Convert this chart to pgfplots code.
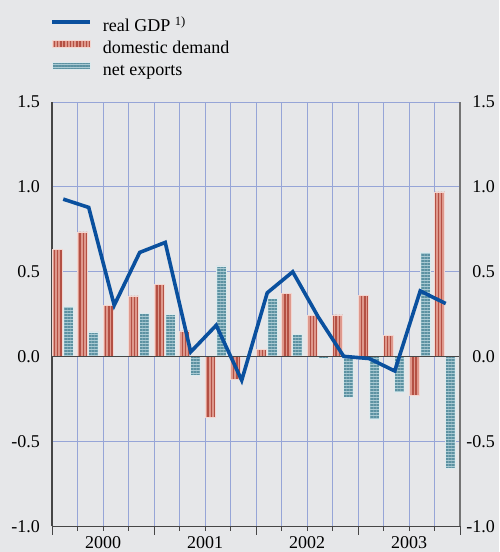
\documentclass[border=0pt]{standalone}
\usepackage{pgfplots}
\pgfplotsset{compat=1.18}
\usetikzlibrary{patterns.meta}
\usepackage{fontspec}
\setmainfont{Liberation Serif}
\definecolor{bg}{RGB}{230,231,233}
\definecolor{gridc}{RGB}{150,165,215}
\definecolor{gdp}{RGB}{10,80,158}
\definecolor{ddfill}{RGB}{222,152,140}
\definecolor{ddline}{RGB}{180,80,68}
\definecolor{nxfill}{RGB}{170,202,211}
\definecolor{nxline}{RGB}{92,146,162}
\definecolor{axc}{RGB}{70,70,70}
\newcommand\cf{\fontsize{18}{21}\selectfont}
\tikzset{
  ddstyle/.style={fill=ddfill, draw=white!60!ddfill, line width=0.6pt,
    postaction={pattern={Lines[angle=90,distance=3.2pt,line width=1.4pt]}, pattern color=ddline}},
  nxstyle/.style={fill=nxfill, draw=white!60!nxfill, line width=0.6pt,
    postaction={pattern={Lines[angle=0,distance=3pt,line width=1.6pt]}, pattern color=nxline}},
}
\begin{document}
\begin{tikzpicture}
\useasboundingbox (0,0) rectangle (499pt,552pt);
\fill[bg] (0,0) rectangle (499pt,552pt);
\begin{axis}[
  at={(52pt,25.5pt)}, anchor=south west,
  scale only axis, width=408pt, height=424.5pt,
  xmin=-0.5, xmax=15.5, ymin=-1, ymax=1.5,
  axis x line*=bottom, axis y line*=left,
  axis line style={draw=axc, line width=1.3pt},
  ytick={-1,-0.5,0,0.5,1,1.5},
  yticklabels={-1.0,-0.5,0.0,0.5,1.0,1.5},
  xtick={1.5,5.5,9.5,13.5},
  xticklabels={2000,2001,2002,2003},
  minor xtick={-0.5,0.5,...,15.5},
  extra x ticks={-0.5,3.5,7.5,11.5,15.5},
  extra x tick labels={},
  extra x tick style={major tick length=8pt, grid=none},
  major tick length=0pt, minor tick length=4pt,
  tick align=outside,
  tick style={draw=axc, line width=1pt},
  ymajorgrids=true, xminorgrids=true, xmajorgrids=false,
  grid style={draw=gridc, line width=0.8pt},
  minor grid style={draw=gridc, line width=0.8pt},
  yticklabel style={anchor=east, inner sep=0pt, xshift=-12pt, font=\cf},
  xticklabel style={anchor=center, inner sep=0pt, yshift=-16pt, font=\cf},
  legend style={at={(axis description cs:0,1)}, anchor=north west,
    xshift=-2pt, yshift=83.5pt, draw=none, fill=none, inner sep=0pt,
    font=\cf, row sep=3.8pt,
    nodes={inner sep=0pt, text height=13pt, text depth=4.5pt},
    /tikz/every odd column/.append style={column sep=11pt}},
  legend cell align=left,
]
\addlegendimage{legend image code/.code={\draw[gdp, line width=3.6pt] (0pt,5.5pt) -- (38pt,5.5pt);}}
\addplot[ybar, bar width=10pt, bar shift=-7.5pt, ddstyle,
  legend image code/.code={\path[ddstyle] (0pt,2pt) rectangle (38pt,9pt);}]
  coordinates {(0,0.63) (1,0.735) (2,0.303) (3,0.358) (4,0.427) (5,0.152) (6,-0.355) (7,-0.135)
   (8,0.042) (9,0.372) (10,0.242) (11,0.246) (12,0.36) (13,0.124) (14,-0.228) (15,0.971)};
\addplot[ybar, bar width=10pt, bar shift=3.5pt, nxstyle,
  legend image code/.code={\path[nxstyle] (0pt,2pt) rectangle (38pt,9pt);}]
  coordinates {(0,0.297) (1,0.146) (2,0.01) (3,0.254) (4,0.248) (5,-0.112) (6,0.535) (7,0.01)
   (8,0.343) (9,0.13) (10,-0.01) (11,-0.241) (12,-0.369) (13,-0.21) (14,0.614) (15,-0.66)};
\addplot[draw=axc, line width=1.4pt, forget plot] coordinates {(-0.5,0) (15.5,0)};
\addplot[sharp plot, draw=gdp, line width=3.6pt, line join=miter, mark=none, forget plot]
  coordinates {(-0.06,0.928) (0.94,0.879) (1.94,0.303) (2.94,0.614) (3.94,0.673) (4.94,0.028)
   (5.94,0.185) (6.94,-0.139) (7.94,0.376) (8.94,0.5) (9.94,0.234) (10.94,0.002)
   (11.94,-0.011) (12.94,-0.084) (13.94,0.387) (14.94,0.313)};
\legend{real GDP \textsuperscript{1)}, domestic demand, net exports}
\end{axis}
\begin{axis}[
  at={(52pt,25.5pt)}, anchor=south west,
  scale only axis, width=408pt, height=424.5pt,
  xmin=-0.5, xmax=15.5, ymin=-1, ymax=1.5,
  axis x line=none, axis y line*=right,
  axis line style={draw=axc!75, line width=1.5pt},
  ytick={-1,-0.5,0,0.5,1,1.5},
  yticklabels={-1.0,-0.5,0.0,0.5,1.0,1.5},
  major tick length=0pt,
  yticklabel style={anchor=east, inner sep=0pt, xshift=35pt, font=\cf},
]
\addplot[draw=none] coordinates {(0,0)};
\end{axis}
\end{tikzpicture}
\end{document}
